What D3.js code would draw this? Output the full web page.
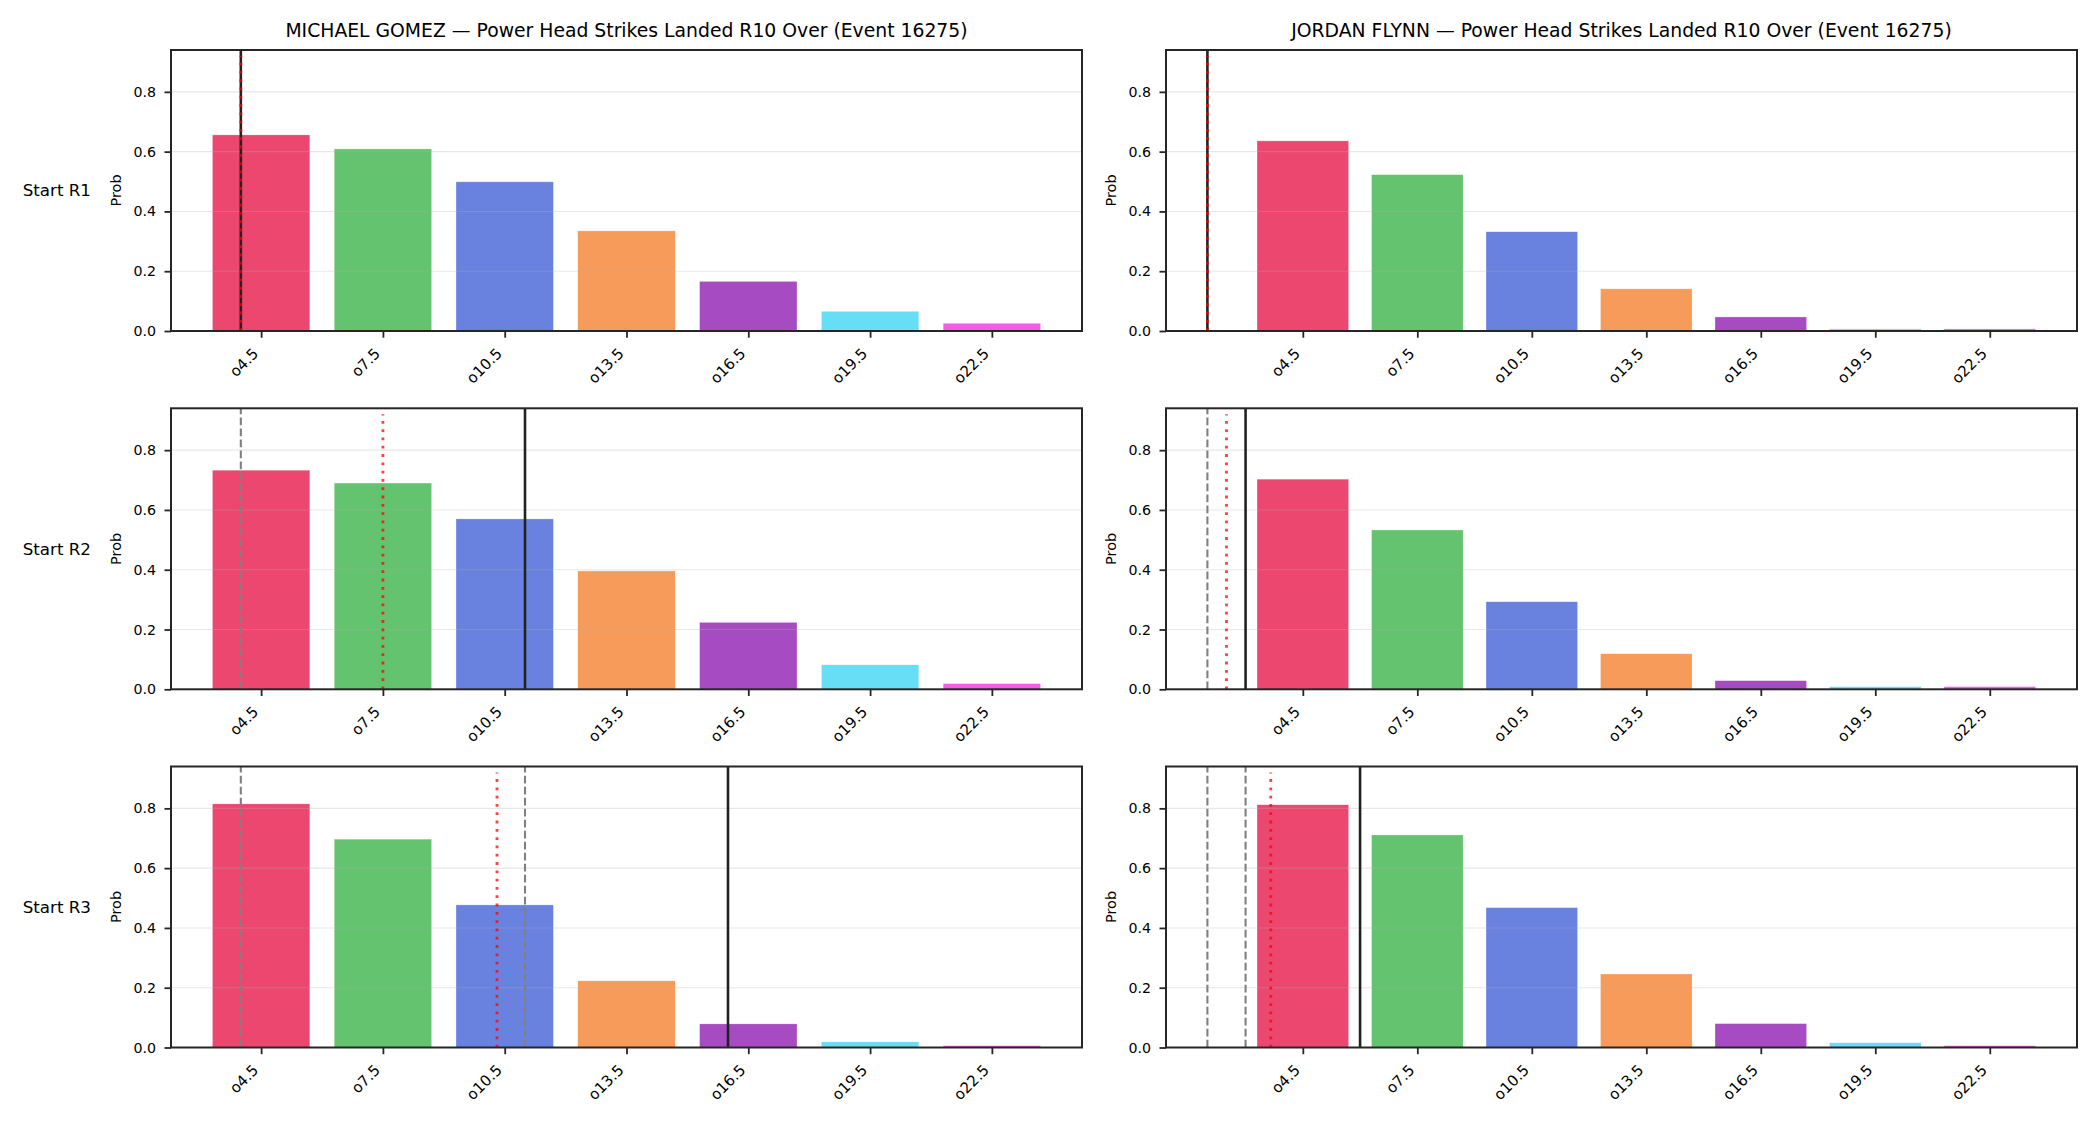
<!DOCTYPE html>
<html>
<head>
<meta charset="utf-8">
<script src="https://cdn.jsdelivr.net/npm/d3@7"></script>
<style>
  html, body { margin: 0; padding: 0; background: #fff; }
  svg { display: block; font-family: "DejaVu Sans", sans-serif; }
</style>
</head>
<body>
<svg id="chart" width="2100" height="1125"></svg>
<script>
// ---------------- data ----------------
const thresholds = ["o4.5", "o7.5", "o10.5", "o13.5", "o16.5", "o19.5", "o22.5"];
const lineValues = [4.5, 7.5, 10.5, 13.5, 16.5, 19.5, 22.5];
const barColors = ["#e6194B", "#3cb44b", "#4363d8", "#f58231", "#911eb4", "#42d4f4", "#f032e6"];
const fighters = ["MICHAEL GOMEZ", "JORDAN FLYNN"];
const roundLabels = ["Start R1", "Start R2", "Start R3"];
const eventId = "16275";

// probabilities per round (rows) for each fighter
const gomezProbs = [
  [0.656, 0.609, 0.499, 0.335, 0.166, 0.066, 0.026],
  [0.733, 0.690, 0.570, 0.396, 0.224, 0.082, 0.019],
  [0.815, 0.697, 0.477, 0.223, 0.079, 0.019, 0.006]
];
const flynnProbs = [
  [0.636, 0.523, 0.332, 0.141, 0.047, 0.007, 0.007],
  [0.703, 0.533, 0.293, 0.119, 0.029, 0.009, 0.009],
  [0.812, 0.711, 0.468, 0.246, 0.080, 0.016, 0.006]
];
// reference lines per round: solid (current), dashed (previous rounds), dotted (projection)
const gomezSolid = [4, 11, 16];
const gomezDashed = [[], [4], [4, 11]];
const gomezDotted = [4, 7.5, 10.31];
const flynnSolid = [2, 3, 6];
const flynnDashed = [[], [2], [2, 3]];
const flynnDotted = [2, 2.5, 3.66];
const yTicks = [0, 0.2, 0.4, 0.6, 0.8];
const yMax = 0.94;

const fighterData = [
  { name: fighters[0], probs: gomezProbs, solid: gomezSolid, dashed: gomezDashed, dotted: gomezDotted },
  { name: fighters[1], probs: flynnProbs, solid: flynnSolid, dashed: flynnDashed, dotted: flynnDotted }
];

// ---------------- layout ----------------
const svg = d3.select("#chart");
const colX = [171, 1166];
const rowY = [50, 408.3, 766.5];
const plotW = 911, plotH = 281;
const halfBar = 1.2; // bar width 2.4 data units
const ink = "#262626";

fighterData.forEach((f, ci) => {
  // x domain for the column, autoscaled with 5% margins like matplotlib
  const allLines = [].concat(f.solid, f.dotted, ...f.dashed);
  const lo = Math.min(lineValues[0] - halfBar, ...allLines);
  const hi = Math.max(lineValues[lineValues.length - 1] + halfBar, ...allLines);
  const pad = 0.05 * (hi - lo);

  roundLabels.forEach((rl, ri) => {
    const g = svg.append("g").attr("transform", `translate(${colX[ci]},${rowY[ri]})`);
    const x = d3.scaleLinear().domain([lo - pad, hi + pad]).range([0, plotW]);
    const y = d3.scaleLinear().domain([0, yMax]).range([plotH, 0]);
    const probs = f.probs[ri];

    // bars
    g.selectAll("rect.bar").data(lineValues).enter().append("rect")
      .attr("class", "bar")
      .attr("x", d => x(d - halfBar))
      .attr("width", d => x(d + halfBar) - x(d - halfBar))
      .attr("y", (d, i) => y(probs[i]))
      .attr("height", (d, i) => plotH - y(probs[i]))
      .attr("fill", (d, i) => barColors[i])
      .attr("fill-opacity", 0.8)
      .attr("stroke", "#fff")
      .attr("stroke-opacity", 0.6)
      .attr("stroke-width", 0.5);

    // grid (drawn above bars, like matplotlib's default axisbelow='line')
    g.selectAll("line.grid").data(yTicks.filter(t => t > 0)).enter().append("line")
      .attr("x1", 0).attr("x2", plotW)
      .attr("y1", d => y(d)).attr("y2", d => y(d))
      .attr("stroke", "#b0b0b0").attr("stroke-opacity", 0.3).attr("stroke-width", 1.1);

    // reference lines
    g.selectAll("line.dashed").data(f.dashed[ri]).enter().append("line")
      .attr("x1", d => x(d)).attr("x2", d => x(d))
      .attr("y1", plotH).attr("y2", 0)
      .attr("stroke", "#808080").attr("stroke-width", 2.1)
      .attr("stroke-dasharray", "7.7,3.3");
    g.append("line")
      .attr("x1", x(f.solid[ri])).attr("x2", x(f.solid[ri]))
      .attr("y1", plotH).attr("y2", 0)
      .attr("stroke", "#222").attr("stroke-width", 2.6);
    g.append("line")
      .attr("x1", x(f.dotted[ri])).attr("x2", x(f.dotted[ri]))
      .attr("y1", plotH).attr("y2", 6)
      .attr("stroke", "#ff0000").attr("stroke-opacity", 0.75).attr("stroke-width", 2.8)
      .attr("stroke-dasharray", "2.8,5.5");

    // y axis
    const ya = g.append("g").call(
      d3.axisLeft(y).tickValues(yTicks).tickFormat(d3.format(".1f")).tickSize(6.5).tickPadding(8.5).tickSizeOuter(0));
    ya.select(".domain").remove();
    ya.selectAll(".tick line").attr("stroke", ink).attr("stroke-width", 1.8);
    ya.selectAll(".tick text").attr("fill", "#000").style("font-size", "14.2px")
      .style("font-family", "DejaVu Sans, sans-serif");

    // x axis
    const xa = g.append("g").attr("transform", `translate(0,${plotH})`).call(
      d3.axisBottom(x).tickValues(lineValues).tickFormat((d, i) => thresholds[i]).tickSize(6.7).tickSizeOuter(0));
    xa.select(".domain").remove();
    xa.selectAll(".tick line").attr("stroke", ink).attr("stroke-width", 1.8);
    xa.selectAll(".tick text")
      .attr("fill", "#000").style("font-size", "15px").style("font-family", "DejaVu Sans, sans-serif")
      .attr("text-anchor", "end")
      .attr("dy", null)
      .attr("y", null)
      .attr("transform", "translate(-2.3,23.5) rotate(-45)");

    // frame
    g.append("rect").attr("x", 0).attr("y", 0).attr("width", plotW).attr("height", plotH)
      .attr("fill", "none").attr("stroke", ink).attr("stroke-width", 2);

    // y label
    g.append("text")
      .attr("transform", `translate(-50,${plotH / 2}) rotate(-90)`)
      .attr("text-anchor", "middle")
      .style("font-size", "14.5px").attr("fill", "#000")
      .text("Prob");

    // row label (left column only)
    if (ci === 0) {
      g.append("text")
        .attr("x", 91 - colX[0]).attr("y", plotH / 2)
        .attr("dy", "0.35em")
        .attr("text-anchor", "end")
        .style("font-size", "16.7px").attr("fill", "#000")
        .text(rl);
    }

    // title (top row only)
    if (ri === 0) {
      g.append("text")
        .attr("x", plotW / 2).attr("y", -13)
        .attr("text-anchor", "middle")
        .style("font-size", "18.8px").attr("fill", "#000")
        .text(`${f.name} — Power Head Strikes Landed R10 Over (Event ${eventId})`);
    }
  });
});
</script>
</body>
</html>
